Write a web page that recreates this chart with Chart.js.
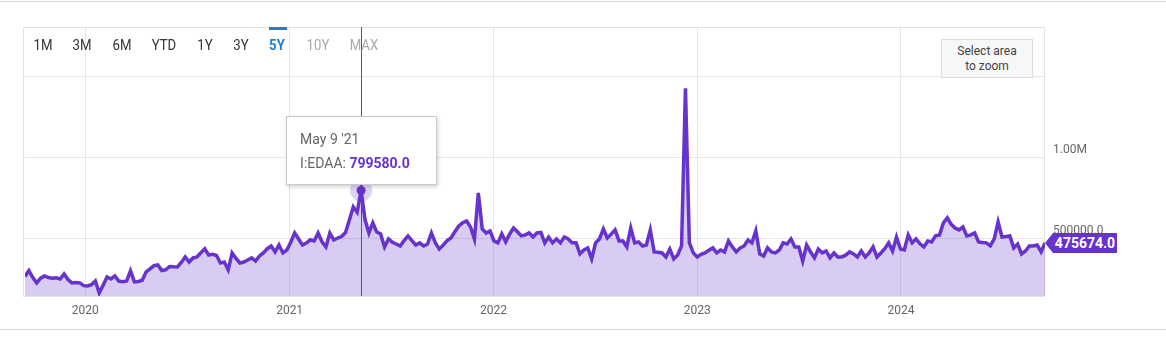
<!DOCTYPE html>
<html>
<head>
  <title>I:EDAA - 5Y</title>
  <script src="https://cdn.jsdelivr.net/npm/chart.js"></script>
  <style>
    body { margin: 0; background: #fff; font-family: Roboto, Arial, sans-serif; }
    #wrap { position: relative; width: 1166px; height: 354px; overflow: hidden; }
    #edaaChart { position: absolute; left: 0; top: 0; }
    .rule { position: absolute; left: 0; width: 1166px; height: 1px; background: #d6d6d6; }
    .range { position: absolute; top: 36px; width: 44px; margin-left: -22px; text-align: center;
             font-size: 15px; line-height: 18px; color: #333; transform: scaleX(0.88); }
    .range.off { color: #a8a8a8; }
    .range.on { color: #1a7fd8; font-weight: bold; }
    #zoom-hint { position: absolute; left: 941px; top: 39px; width: 92px; height: 39px; box-sizing: border-box;
                 background: #f6f7f7; border: 1px solid #dcdcdc; color: #444; font-size: 12px;
                 line-height: 15px; text-align: center; padding-top: 4px; }
    #tip { position: absolute; width: 151px; height: 69px; box-sizing: border-box; background: #fff;
           border: 1px solid #c9c9c9; box-shadow: 1px 2px 4px rgba(0,0,0,0.18);
           padding: 10px 0 0 13px; font-size: 14px; line-height: 24px; color: #666; display: none; }
    #tip b { color: #6633cc; }
    #last-label { position: absolute; left: 1053px; width: 64px; height: 20px; background: #6633cc;
                  color: #fff; font-weight: bold; font-size: 14px; line-height: 20px; text-align: center; }
    #last-label:before { content: ''; position: absolute; left: -8px; top: 0; border-top: 10px solid transparent;
                         border-bottom: 10px solid transparent; border-right: 8px solid #6633cc; }
  </style>
</head>
<body>
  <div id="wrap">
    <div class="rule" style="top: 1px;"></div>
    <div class="rule" style="top: 329px;"></div>
    <canvas id="edaaChart" width="1166" height="354"></canvas>

    <!-- Botões de período -->
    <span class="range" style="left: 43px;">1M</span>
    <span class="range" style="left: 82px;">3M</span>
    <span class="range" style="left: 122px;">6M</span>
    <span class="range" style="left: 164px;">YTD</span>
    <span class="range" style="left: 205px;">1Y</span>
    <span class="range" style="left: 241px;">3Y</span>
    <span class="range on" style="left: 277px;">5Y</span>
    <div style="position: absolute; left: 269px; top: 27px; width: 18px; height: 3px; background: #1a7fd8;"></div>
    <span class="range off" style="left: 318px;">10Y</span>
    <span class="range off" style="left: 364px;">MAX</span>

    <div id="zoom-hint">Select area<br>to zoom</div>
    <div id="tip"></div>
    <div id="last-label"></div>
  </div>

  <script>
    // Dados semanais (domingos), a partir de 15/09/2019
    const seriesName = 'I:EDAA';
    const startDate = Date.UTC(2019, 8, 15);
    const WEEK = 7 * 24 * 3600 * 1000;

    const values2019 = [268000, 305000, 262000, 229000, 258000, 272000, 262000, 258000, 260000, 253000, 284000, 250000,
      229000, 232000, 229000, 212000];
    const values2020 = [210000, 218000, 241000, 167000, 215000, 266000, 253000, 272000, 240000, 236000,
      241000, 303000, 235000, 238000, 245000, 297000, 315000, 335000, 340000, 305000,
      310000, 330000, 328000, 327000, 355000, 389000, 358000, 383000, 389000, 415000,
      439000, 401000, 405000, 398000, 352000, 358000, 309000, 414000, 380000, 352000,
      358000, 370000, 383000, 364000, 395000, 414000, 440000, 457000, 420000, 463000,
      414000, 432000];
    const values2021 = [480000, 537000, 500000, 463000, 475000, 495000, 488000, 537000, 482000, 451000,
      537000, 494000, 506000, 515000, 540000, 617000, 698000, 665000, 799580, 620000,
      537000, 599000, 543000, 531000, 451000, 500000, 480000, 469000, 457000, 490000,
      519000, 490000, 463000, 476000, 457000, 469000, 537000, 476000, 438000, 462000,
      490000, 506000, 545000, 580000, 600000, 611000, 574000, 500000, 784000, 562000,
      537000, 550000];
    const values2022 = [488000, 476000, 531000, 482000, 530000, 568000, 545000, 519000, 525000, 537000,
      512000, 537000, 540000, 476000, 512000, 476000, 500000, 476000, 512000, 500000,
      476000, 476000, 408000, 432000, 445000, 377000, 476000, 500000, 562000, 506000,
      530000, 556000, 488000, 488000, 451000, 568000, 476000, 482000, 457000, 463000,
      556000, 420000, 418000, 414000, 389000, 438000, 377000, 401000, 457000, 1430000,
      476000, 414000];
    const values2023 = [389000, 405000, 414000, 430000, 445000, 414000, 432000, 420000, 488000, 451000,
      420000, 445000, 457000, 494000, 476000, 550000, 408000, 395000, 445000, 420000,
      414000, 432000, 476000, 469000, 500000, 451000, 451000, 364000, 463000, 420000,
      383000, 438000, 414000, 426000, 383000, 414000, 389000, 389000, 400000, 420000,
      408000, 389000, 426000, 389000, 414000, 451000, 389000, 414000, 440000, 476000,
      426000, 512000, 438000];
    const values2024 = [432000, 525000, 476000, 500000, 470000, 451000, 488000, 482000, 519000, 525000,
      599000, 630000, 590000, 568000, 556000, 574000, 519000, 525000, 537000, 482000,
      478000, 476000, 457000, 500000, 605000, 512000, 515000, 519000, 445000, 469000,
      408000, 426000, 457000, 457000, 463000, 420000, 475674];

    const weeklyValues = [].concat(values2019, values2020, values2021, values2022, values2023, values2024);
    const yearTicks = [2020, 2021, 2022, 2023, 2024];
    const yTickValues = [500000, 1000000, 1500000];
    const yTickLabels = ['500000.0', '1.00M', ''];
    const hoverIndex = 86;

    const points = weeklyValues.map((v, i) => ({ x: startDate + i * WEEK, y: v }));
    const lastValue = weeklyValues[weeklyValues.length - 1];

    const months = ['Jan', 'Feb', 'Mar', 'Apr', 'May', 'Jun', 'Jul', 'Aug', 'Sep', 'Oct', 'Nov', 'Dec'];
    const formatDate = (t) => {
      const d = new Date(t);
      return months[d.getUTCMonth()] + ' ' + d.getUTCDate() + " '" + String(d.getUTCFullYear()).slice(2);
    };

    // Moldura da área do gráfico + linha vertical do cursor
    const framePlugin = {
      id: 'frame',
      beforeDatasetsDraw(chart) {
        const { ctx, chartArea: a } = chart;
        ctx.save();
        ctx.strokeStyle = '#e3e3e3';
        ctx.lineWidth = 1;
        ctx.strokeRect(a.left - 1.5, a.top + 0.5, a.right - a.left + 1, a.bottom - a.top);
        const active = chart.getActiveElements();
        if (active.length) {
          const x = Math.round(active[0].element.x) + 0.5;
          ctx.strokeStyle = '#5a5a5a';
          ctx.beginPath();
          ctx.moveTo(x, a.top);
          ctx.lineTo(x, a.bottom);
          ctx.stroke();
        }
        ctx.restore();
      }
    };

    const tickFont = { family: 'Roboto', size: 12 };

    const chart = new Chart(document.getElementById('edaaChart'), {
      type: 'line',
      data: {
        datasets: [{
          label: seriesName,
          data: points,
          borderColor: '#6633cc',
          borderWidth: 3.5,
          backgroundColor: 'rgba(102, 51, 204, 0.25)',
          fill: 'start',
          tension: 0,
          pointRadius: 0,
          pointHoverRadius: 4.5,
          pointHoverBackgroundColor: '#6633cc',
          pointHoverBorderColor: 'rgba(102, 51, 204, 0.22)',
          pointHoverBorderWidth: 13
        }]
      },
      options: {
        responsive: false,
        animation: false,
        events: [],
        layout: { padding: { left: 25, top: 27, right: 0, bottom: 0 } },
        plugins: {
          legend: { display: false },
          tooltip: {
            enabled: false,
            external: (context) => {
              const t = context.tooltip;
              const tip = document.getElementById('tip');
              if (!t.dataPoints || !t.dataPoints.length) { tip.style.display = 'none'; return; }
              const p = t.dataPoints[0];
              tip.innerHTML = formatDate(p.parsed.x) + '<br>' + seriesName + ': <b>' + p.parsed.y.toFixed(1) + '</b>';
              tip.style.left = (t.caretX - 75) + 'px';
              tip.style.top = (t.caretY - 74) + 'px';
              tip.style.display = 'block';
            }
          }
        },
        scales: {
          x: {
            type: 'linear',
            min: startDate,
            max: startDate + (weeklyValues.length - 1) * WEEK,
            afterBuildTicks: (s) => { s.ticks = yearTicks.map(y => ({ value: Date.UTC(y, 0, 1) })); },
            afterFit: (s) => { s.height = 58; },
            grid: { color: '#e6e6e6', drawTicks: false },
            border: { display: false },
            ticks: {
              autoSkip: false, maxRotation: 0, padding: 8, color: '#666', font: tickFont,
              callback: (v) => new Date(v).getUTCFullYear()
            }
          },
          y: {
            position: 'right',
            min: 148000,
            max: 1808600,
            afterBuildTicks: (s) => { s.ticks = yTickValues.map(v => ({ value: v })); },
            afterFit: (s) => { s.width = 121; },
            grid: { color: '#e6e6e6', drawTicks: false },
            border: { display: false },
            ticks: {
              padding: 8, labelOffset: -8, color: '#666', font: tickFont,
              callback: (v, i) => yTickLabels[i]
            }
          }
        }
      },
      plugins: [framePlugin]
    });

    // Ponto destacado (tooltip fixo)
    chart.setActiveElements([{ datasetIndex: 0, index: hoverIndex }]);
    chart.update('none');
    chart.tooltip.setActiveElements([{ datasetIndex: 0, index: hoverIndex }], { x: 0, y: 0 });

    // Etiqueta do último valor
    const lastLabel = document.getElementById('last-label');
    lastLabel.textContent = lastValue.toFixed(1);
    lastLabel.style.top = (chart.scales.y.getPixelForValue(lastValue) - 10) + 'px';
  </script>
</body>
</html>
